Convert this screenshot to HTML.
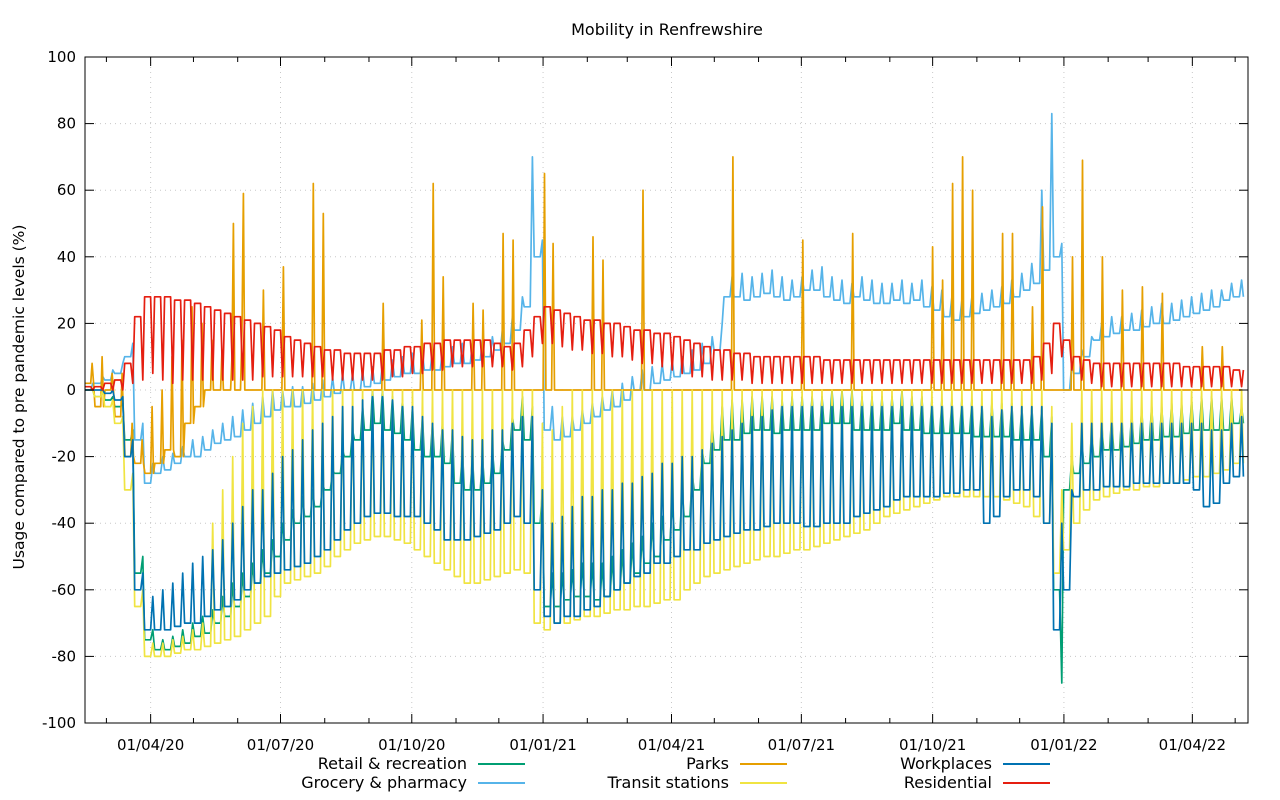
<!DOCTYPE html>
<html><head><meta charset="utf-8"><style>
body{margin:0;background:#fff;}
svg{display:block;font-family:"DejaVu Sans","Liberation Sans",sans-serif;}
</style></head><body>
<svg id="chart" width="1280" height="800" viewBox="0 0 1280 800">
<text x="667" y="35" text-anchor="middle" font-size="16">Mobility in Renfrewshire</text>
<text transform="translate(24,397) rotate(-90)" text-anchor="middle" font-size="15.5">Usage compared to pre pandemic levels (%)</text>
<g id="grid"></g>
<g id="series"></g>
<rect x="85" y="57" width="1163" height="666" fill="none" stroke="#000" stroke-width="1"/>
<g id="axes"></g>
<g id="legend"></g>
</svg>
<script>
const yTicks=[100,80,60,40,20,0,-20,-40,-60,-80,-100];
const xTickLabels=["01/04/20","01/07/20","01/10/20","01/01/21","01/04/21","01/07/21","01/10/21","01/01/22","01/04/22"];
const xTickDays=[46,137,229,321,411,502,594,686,776];
const xMinorDays=[15,76,107,168,199,260,290,352,380,441,472,533,564,625,655,717,745,806];
const seriesNames=["Retail & recreation","Grocery & pharmacy","Parks","Transit stations","Workplaces","Residential"];
const retailWd=[0,-2,-3,-5,-15,-55,-75,-78,-78,-77,-76,-74,-73,-70,-68,-65,-62,-58,-55,-50,-45,-40,-38,-35,-30,-25,-20,-15,-12,-10,-12,-13,-15,-18,-20,-20,-22,-28,-30,-30,-28,-25,-18,-12,-15,-40,-65,-65,-63,-62,-62,-63,-62,-60,-58,-55,-52,-50,-45,-42,-38,-30,-22,-18,-15,-15,-13,-12,-12,-13,-12,-12,-12,-12,-10,-10,-10,-12,-12,-12,-12,-10,-12,-12,-13,-13,-13,-13,-13,-14,-14,-14,-14,-15,-15,-15,-20,-60,-30,-25,-22,-20,-18,-18,-17,-16,-15,-15,-14,-14,-13,-12,-12,-12,-12,-10];
const retailWe=[0,0,-2,-4,-12,-50,-72,-75,-74,-72,-70,-68,-66,-62,-58,-55,-52,-48,-45,-40,-36,-32,-30,-28,-24,-18,-12,-5,0,0,-2,-3,-5,-8,-10,-10,-12,-18,-20,-20,-18,-15,-8,-2,-5,-30,-55,-55,-54,-52,-52,-52,-50,-48,-46,-44,-40,-38,-34,-30,-25,-18,-10,-5,-3,-3,-2,-2,-2,-3,-2,-2,-2,-2,0,0,0,-2,-2,-2,-2,0,-2,-2,-3,-3,-3,-3,-3,-4,-4,-4,-4,-5,-5,-5,-8,-88,-20,-15,-12,-10,-8,-8,-7,-6,-5,-5,-4,-4,-3,-2,-2,-2,-2,-5];
const groceryWd=[0,2,3,5,10,-15,-28,-25,-24,-22,-20,-20,-18,-16,-15,-14,-12,-10,-8,-6,-5,-5,-4,-3,-2,-1,0,0,1,2,3,4,5,5,6,6,7,8,8,9,10,12,14,18,25,40,-12,-15,-14,-12,-10,-8,-6,-5,-3,0,0,2,3,4,5,6,8,12,28,28,27,28,29,28,27,28,30,30,28,27,26,28,27,26,26,27,26,27,25,24,22,21,22,23,24,25,26,28,30,32,36,40,0,5,10,15,16,17,18,18,19,20,20,21,22,23,24,25,27,28];
const groceryWe=[2,4,6,8,14,-10,-22,-20,-19,-17,-15,-14,-12,-10,-8,-6,-4,-2,0,0,1,1,2,3,4,5,5,6,7,8,9,10,11,11,12,12,13,14,14,15,16,18,22,28,70,45,-5,-8,-8,-6,-4,-2,0,2,4,6,7,8,9,10,12,14,16,20,34,35,34,35,36,34,33,34,36,37,34,33,32,34,33,32,32,33,32,33,31,30,28,27,28,29,30,31,33,35,38,60,83,44,8,12,16,20,22,22,23,24,25,26,26,27,28,29,30,30,32,33];
const parksWd=[2,-5,0,-8,-20,-22,-25,-22,-18,-20,-10,-5,0,0,0,0,0,0];
const parksWe=[8,10,5,5,-10,-15,-5,0,10,15,25,20,15,12,10,18,0,0];
const parksSpikeDays=[104,111,125,139,160,167,209,236,244,251,272,279,293,300,322,328,356,363,391,454,503,538,594,601,608,615,622,643,650,664,671,692,699,713,727,741,755,783,797];
const parksSpikeValues=[50,59,30,37,62,53,26,21,62,34,26,24,47,45,65,44,46,39,60,70,45,47,43,33,62,70,60,47,47,25,55,40,69,40,30,31,29,13,13];
const transitWd=[0,-2,-5,-10,-30,-65,-80,-80,-80,-79,-78,-78,-77,-76,-75,-74,-72,-70,-68,-62,-58,-57,-56,-55,-53,-50,-48,-46,-45,-44,-44,-45,-46,-48,-50,-52,-54,-56,-58,-58,-57,-56,-55,-54,-55,-70,-72,-70,-70,-69,-68,-68,-67,-66,-66,-65,-65,-64,-63,-63,-60,-58,-56,-55,-54,-53,-52,-51,-50,-50,-49,-48,-48,-47,-46,-45,-44,-43,-42,-40,-38,-37,-36,-35,-34,-33,-32,-32,-32,-32,-32,-32,-33,-34,-35,-38,-40,-55,-48,-40,-36,-33,-32,-31,-30,-30,-29,-29,-28,-28,-27,-26,-26,-25,-24,-22];
const transitWe=[0,0,-3,-8,-25,-60,-76,-76,-75,-74,-72,-70,-40,-30,-20,-10,-5,0,0,0,0,0,0,0,0,0,0,0,0,0,0,0,0,0,0,0,0,0,0,0,0,0,0,0,0,-10,-12,-5,0,0,0,0,0,0,0,0,0,0,0,0,0,0,0,0,0,0,0,0,0,0,0,0,0,0,0,0,0,0,0,0,0,0,0,0,0,0,0,0,0,0,0,0,0,0,0,0,-5,-30,-10,0,0,0,0,0,0,0,0,0,0,0,0,0,0,0,0,0];
const workWd=[0,0,-1,-3,-20,-60,-72,-72,-72,-71,-70,-70,-68,-66,-65,-63,-60,-58,-56,-55,-54,-53,-52,-50,-48,-45,-42,-40,-38,-37,-37,-38,-38,-38,-40,-42,-45,-45,-45,-44,-43,-42,-40,-38,-40,-60,-68,-70,-68,-68,-66,-65,-62,-60,-58,-56,-55,-52,-52,-50,-48,-48,-46,-45,-44,-43,-42,-42,-41,-40,-40,-40,-41,-41,-40,-40,-40,-38,-37,-36,-35,-33,-32,-32,-32,-32,-31,-31,-30,-30,-40,-38,-32,-30,-30,-32,-40,-72,-60,-32,-30,-30,-29,-29,-29,-28,-28,-28,-28,-28,-28,-30,-35,-34,-28,-26];
const workWe=[0,0,0,-2,-15,-55,-62,-60,-58,-55,-52,-50,-48,-45,-40,-35,-30,-30,-25,-20,-18,-15,-12,-10,-8,-5,-5,-3,-2,-2,-3,-5,-5,-8,-10,-12,-12,-14,-15,-15,-12,-12,-10,-8,-8,-30,-40,-38,-35,-32,-32,-30,-30,-28,-28,-26,-25,-22,-22,-20,-20,-18,-16,-14,-12,-10,-8,-8,-6,-5,-5,-5,-5,-5,-5,-5,-5,-5,-5,-5,-5,-5,-5,-5,-5,-5,-5,-5,-5,-5,-8,-6,-5,-5,-5,-5,-10,-40,-30,-10,-10,-10,-10,-10,-10,-10,-10,-10,-10,-10,-10,-10,-12,-12,-10,-8];
const resWd=[1,1,2,3,8,22,28,28,28,27,27,26,25,24,23,22,21,20,19,18,16,15,14,13,12,12,11,11,11,11,12,12,13,13,14,14,15,15,15,15,15,14,13,14,18,22,25,24,23,22,21,21,20,20,19,18,18,17,17,16,15,14,13,12,12,11,11,10,10,10,10,10,10,10,9,9,9,9,9,9,9,9,9,9,9,9,9,9,9,9,9,9,9,9,9,10,14,20,15,10,9,8,8,8,8,8,8,8,8,8,7,7,7,7,7,6];
const resWe=[0,0,0,0,2,3,5,3,2,3,3,3,3,3,3,3,3,4,4,4,4,4,4,4,3,3,3,3,3,3,4,4,5,5,6,6,7,7,7,7,7,7,6,7,10,14,14,13,12,12,11,11,10,10,9,8,8,7,6,5,4,4,3,3,3,3,2,2,2,2,2,2,2,2,2,2,2,2,2,2,2,2,2,2,2,2,2,2,2,2,2,2,2,2,2,3,5,10,6,3,2,1,1,1,1,1,1,1,1,1,1,1,1,1,1,1];

const NS="http://www.w3.org/2000/svg";
const X0=85,X1=1248,Y0=57,Y1=723,DAYS=815;
const xs=d=>X0+d*(X1-X0)/DAYS;
const ys=v=>Y1-(v+100)*(Y1-Y0)/200;
function mk(tag,attrs,parent){const e=document.createElementNS(NS,tag);for(const k in attrs)e.setAttribute(k,attrs[k]);parent.appendChild(e);return e;}
const grid=document.getElementById('grid'),axes=document.getElementById('axes'),ser=document.getElementById('series'),leg=document.getElementById('legend');
yTicks.forEach(v=>{
  const y=ys(v);
  if(v!==100&&v!==-100){const g=mk('line',{x1:X0,x2:X1,y1:y,y2:y,stroke:'#c8c8c8','stroke-dasharray':'1,4'},grid);}
  const t=mk('line',{x1:X0,x2:X0+9,y1:y,y2:y,stroke:'#000'},axes);
  const t2=mk('line',{x1:X1-9,x2:X1,y1:y,y2:y,stroke:'#000'},axes);
  const l=mk('text',{x:76,y:y+5,'text-anchor':'end','font-size':15},axes);l.textContent=v;
});
xTickDays.forEach((d,i)=>{
  const x=xs(d);
  const g=mk('line',{x1:x,x2:x,y1:Y0,y2:Y1,stroke:'#c8c8c8','stroke-dasharray':'1,4'},grid);
  const t=mk('line',{x1:x,x2:x,y1:Y1,y2:Y1-9,stroke:'#000'},axes);
  const t2=mk('line',{x1:x,x2:x,y1:Y0,y2:Y0+9,stroke:'#000'},axes);
  const l=mk('text',{x:x,y:750,'text-anchor':'middle','font-size':15},axes);l.textContent=xTickLabels[i];
});
xMinorDays.forEach(d=>{
  const x=xs(d);
  const t=mk('line',{x1:x,x2:x,y1:Y1,y2:Y1-5,stroke:'#000'},axes);
  const t2=mk('line',{x1:x,x2:x,y1:Y0,y2:Y0+5,stroke:'#000'},axes);
});
function weekly(wd,we){const p=[];for(let i=0;i<wd.length;i++){const b=i*7;p.push([b,wd[i]],[b+4,wd[i]],[b+5.5,we[i]],[b+6.8,wd[i+1]!==undefined?wd[i+1]:wd[i]]);}return p.filter(q=>q[0]<=DAYS-3);}
function parksPts(){const vals=[];for(let d=0;d<DAYS-3;d++){const w=Math.floor(d/7);let v=w<parksWd.length?((d%7===5)?parksWe[w]:parksWd[w]):0;vals.push(v);}
  parksSpikeDays.forEach((d,i)=>{vals[d]=parksSpikeValues[i];});return vals.map((v,d)=>[d,v]);}
const colors=["#009e73","#56b4e9","#e69f00","#f0e442","#0072b2","#e51e10"];
const names=["retail-line","grocery-line","parks-line","transit-line","workplaces-line","residential-line"];
const pts=[weekly(retailWd,retailWe),weekly(groceryWd,groceryWe),parksPts(),weekly(transitWd,transitWe),weekly(workWd,workWe),weekly(resWd,resWe)];
pts.forEach((p,i)=>{
  const pl=mk('polyline',{points:p.map(q=>xs(q[0]).toFixed(1)+','+ys(q[1]).toFixed(1)).join(' '),fill:'none',stroke:colors[i],'stroke-width':1.7,'stroke-linejoin':'round'},ser);
  
  
});
const legPos=[[467,764],[467,783],[729,764],[729,783],[992,764],[992,783]];
seriesNames.forEach((n,i)=>{
  const [x,y]=legPos[i];
  const t=mk('text',{x:x,y:y+5,'text-anchor':'end','font-size':16},leg);t.textContent=n;
  
  
  const l=mk('line',{x1:x+11,x2:x+58,y1:y,y2:y,stroke:colors[i],'stroke-width':2},leg);
  
  
});
</script>
</body></html>
